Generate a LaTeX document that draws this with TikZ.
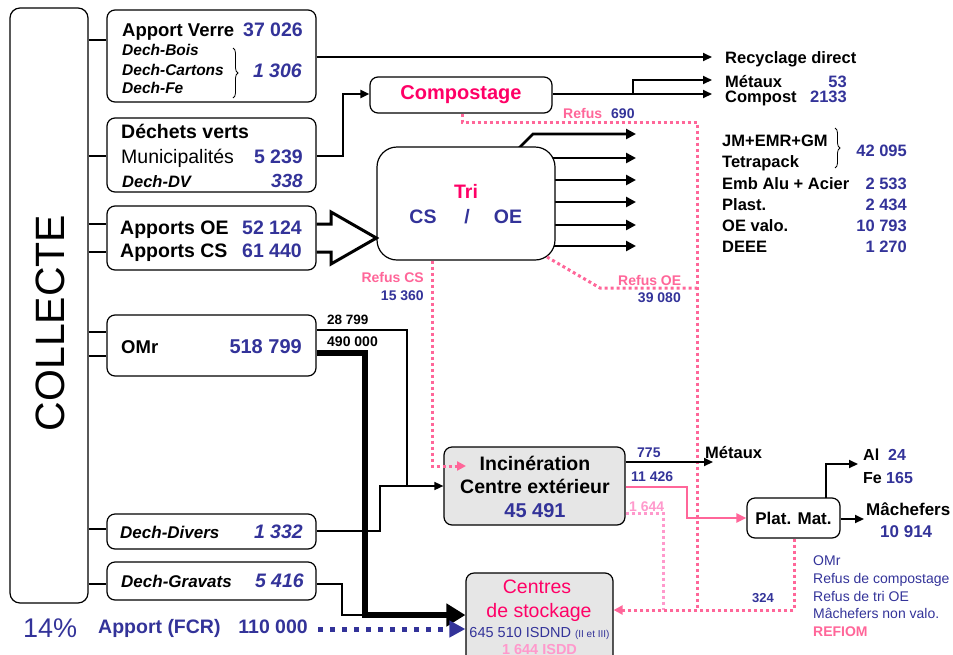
\documentclass[tikz,border=0pt]{standalone}
\usepackage{fontspec}
\setmainfont{Liberation Sans}
\usetikzlibrary{arrows.meta,decorations.pathreplacing}
\definecolor{cblue}{HTML}{333399}
\definecolor{cmag}{HTML}{FF0066}
\definecolor{cpink}{HTML}{FF6699}
\definecolor{clpink}{HTML}{FF99CC}
\definecolor{cgray}{HTML}{E6E6E6}
\newcommand\myfs[1]{\fontsize{#1}{#1}\selectfont}
\tikzset{
 box/.style={draw, line width=1.2pt, rounded corners=8pt, inner sep=0, fill=white},
 lt/.style={inner sep=0, anchor=base west},
 rt/.style={inner sep=0, anchor=base east},
 ct/.style={inner sep=0, anchor=base},
 fb/.style={font=\bfseries\myfs{#1}},
 fbi/.style={font=\bfseries\itshape\myfs{#1}},
 fr/.style={font=\myfs{#1}},
 bl/.style={text=cblue},
 conn/.style={line width=1.5pt},
 arr/.style={line width=2pt, -{Triangle[length=9pt,width=8pt]}},
 tarr/.style={line width=2.6pt, -{Triangle[length=10pt,width=10pt]}},
 pdot/.style={draw=cpink, line width=3pt, dash pattern=on 3pt off 3pt},
 lpdot/.style={draw=clpink, line width=3pt, dash pattern=on 3pt off 3pt},
 parr/.style={-{Triangle[length=9pt,width=9pt]}, cpink},
}
\begin{document}
\begin{tikzpicture}[x=1pt,y=-1pt]
\useasboundingbox (0,0) rectangle (953,654);
\clip (0,0) rectangle (953,654);

% ---------- boxes ----------
\node[box, rounded corners=10pt, minimum width=78, minimum height=595] (col) at (49,305.5) {};
\node[rotate=90, fr=41, inner sep=0] (colt) at (50,323) {COLLECTE};

\node[box, minimum width=209, minimum height=92] (b1) at (211.5,56) {};
\node[box, minimum width=209, minimum height=74] (b2) at (211.5,155) {};
\node[box, minimum width=209, minimum height=64] (b3) at (211.5,238) {};
\node[box, minimum width=209, minimum height=61] (b4) at (211.5,345.5) {};
\node[box, minimum width=209, minimum height=35] (b5) at (211.5,531.5) {};
\node[box, minimum width=209, minimum height=38] (b6) at (211.5,581) {};

% connectors from COLLECTE
\draw[conn] (col.east |- 0,40) -- (b1.west |- 0,40);
\draw[conn] (col.east |- 0,156) -- (b2.west |- 0,156);
\draw[conn] (col.east |- 0,224) -- (b3.west |- 0,224);
\draw[conn] (col.east |- 0,252) -- (b3.west |- 0,252);
\draw[conn] (col.east |- 0,332) -- (b4.west |- 0,332);
\draw[conn] (col.east |- 0,356) -- (b4.west |- 0,356);
\draw[conn] (col.east |- 0,529) -- (b5.west |- 0,529);
\draw[conn] (col.east |- 0,584) -- (b6.west |- 0,584);

% box texts
\node[lt, fb=18.5] (t1a) at (122,36) {Apport Verre};
\node[rt, fb=19.5, bl] (t1b) at (303,36) {37 026};
\node[lt, fbi=15.5] (t1c) at (122,55) {Dech-Bois};
\node[lt, fbi=15.5] (t1d) at (122,75) {Dech-Cartons};
\node[lt, fbi=15.5] (t1e) at (122,93) {Dech-Fe};
\draw[decorate, decoration={brace, amplitude=5pt}, line width=0.8pt] (233,48) -- (233,98);
\node[rt, fbi=19.5, bl] (t1f) at (302,77) {1 306};

\node[lt, fb=19.5] (t2a) at (121,138) {Déchets verts};
\node[lt, fr=19.5] (t2b) at (121,163) {Municipalités};
\node[rt, fb=19.5, bl] (t2c) at (303,163) {5 239};
\node[lt, fbi=16.5] (t2d) at (122,187) {Dech-DV};
\node[rt, fbi=19, bl] (t2e) at (303,187) {338};

\node[lt, fb=19.5] (t3a) at (120,234) {Apports OE};
\node[rt, fb=19.5, bl] (t3b) at (302,234) {52 124};
\node[lt, fb=19.5] (t3c) at (120,257) {Apports CS};
\node[rt, fb=19.5, bl] (t3d) at (302,257) {61 440};

\node[lt, fb=18.5] (t4a) at (121,353) {OMr};
\node[rt, fb=20, bl] (t4b) at (302,353) {518 799};
\node[lt, fb=13.5] (t4c) at (327,324) {28 799};
\node[lt, fb=14] (t4d) at (327,346) {490 000};

\node[lt, fbi=17] (t5a) at (120,538) {Dech-Divers};
\node[rt, fbi=19.5, bl] (t5b) at (303,538) {1 332};
\node[lt, fbi=17] (t6a) at (121,587) {Dech-Gravats};
\node[rt, fbi=19.5, bl] (t6b) at (304,587) {5 416};

\node[lt, fr=27, bl] (pct) at (23,637) {14\%};
\node[lt, fb=19.5, bl] (fcr) at (98,633) {Apport (FCR)};
\node[rt, fb=19.5, bl] (fcrn) at (308,633) {110 000};

% ---------- process boxes ----------
\node[box, minimum width=182, minimum height=36] (comp) at (461,95) {};
\node[fb=20, text=cmag, inner sep=0] (compt) at (461,95) {Compostage};

% Tri arrows (behind box)
\draw[tarr] (518,149) -- (533,134) -- (636,134);
\draw[tarr] (553,158) -- (636,158);
\draw[tarr] (553,180) -- (636,180);
\draw[tarr] (553,202) -- (636,202);
\draw[tarr] (553,225) -- (636,225);
\draw[tarr] (553,246) -- (636,246);

\node[box, rounded corners=20pt, minimum width=178, minimum height=113] (tri) at (466,203.5) {};
\node[ct, fb=19.5, text=cmag] (trit) at (466,198) {Tri};
\node[ct, fb=19.5, bl] (tric) at (423,223) {CS};
\node[ct, fb=19.5, bl] (tris) at (467,223) {/};
\node[ct, fb=19.5, bl] (trio) at (508,223) {OE};

\node[box, fill=cgray, minimum width=181, minimum height=78] (inc) at (534.5,486) {};
\node[ct, fb=19.5] (inca) at (535,470) {Incinération};
\node[ct, fb=19.5] (incb) at (535,493) {Centre extérieur};
\node[ct, fb=20, bl] (incc) at (535,517) {45 491};

\node[box, minimum width=93, minimum height=40] (plat) at (793.5,518) {};
\node[fb=17, inner sep=0] (platt) at (793.5,518) {Plat. Mat.};

\node[box, fill=cgray, minimum width=147, minimum height=92] (sto) at (539.5,619) {};
\node[ct, fr=19.5, text=cmag] (stoa) at (537,593) {Centres};
\node[ct, fr=19.5, text=cmag] (stob) at (539,617) {de stockage};
\node[ct, fr=14.5, bl] (stoc) at (539.5,637) {645 510 ISDND {\myfs{10}(II et III)}};
\node[ct, fb=14.5, text=clpink] (stod) at (539.5,654) {1 644 ISDD};

% ---------- connectors ----------
% recyclage direct
\coordinate (rec) at (712,57);
\draw[arr] (b1.east |- 0,57) -- (rec);
\node[lt, fb=16.5] (rect) at (725,63) {Recyclage direct};

% dechets verts -> compostage
\draw[arr] (b2.east |- 0,156) -- (343,156) -- (343,94) -- (comp.west |- 0,94);

% compostage outputs
\coordinate (cmet) at (712,80);
\coordinate (ccom) at (712,94);
\draw[arr] (comp.east |- 0,94) -- (ccom);
\draw[arr] (633,94) -- (633,80) -- (cmet);
\node[lt, fb=16.5] (cmt) at (725,87) {Métaux};
\node[rt, fb=16.5, bl] (cmn) at (847,87) {53};
\node[lt, fb=16.5] (cct) at (725,102) {Compost};
\node[rt, fb=16.5, bl] (ccn) at (847,102) {2133};
\node[lt, fb=14, text=cpink] (rf) at (563,118) {Refus};
\node[lt, fb=14, bl] (rfn) at (611,118) {690};

% apports -> tri (hollow arrow)
\draw[line width=3pt, line join=miter] (b3.east |- 0,224) -- (331,224) -- (331,212) -- (tri.west |- 0,238) -- (331,264) -- (331,252) -- (b3.east |- 0,252);

% tri output labels
\node[lt, fb=16.5] (l1) at (722,146) {JM+EMR+GM};
\node[lt, fb=16.5] (l2) at (722,167) {Tetrapack};
\node[lt, fb=16.5] (l3) at (722,189) {Emb Alu + Acier};
\node[lt, fb=16.5] (l4) at (722,210) {Plast.};
\node[lt, fb=16.5] (l5) at (722,231) {OE valo.};
\node[lt, fb=16.5] (l6) at (722,252) {DEEE};
\draw[decorate, decoration={brace, amplitude=5pt}, line width=0.8pt] (835,128) -- (835,168);
\node[rt, fb=16.5, bl] (n1) at (907,156) {42 095};
\node[rt, fb=16.5, bl] (n3) at (907,189) {2 533};
\node[rt, fb=16.5, bl] (n4) at (907,210) {2 434};
\node[rt, fb=16.5, bl] (n5) at (907,231) {10 793};
\node[rt, fb=16.5, bl] (n6) at (907,252) {1 270};

% refus OE
\draw[pdot] (547,257) -- (600,288) -- (697,288);
\node[lt, fb=14, text=cpink] (roe) at (618,285) {Refus OE};
\node[rt, fb=14, bl] (roen) at (681,302) {39 080};

% refus CS
\node[rt, fb=14, text=cpink] (rcs) at (424,282) {Refus CS};
\node[rt, fb=14, bl] (rcsn) at (424,300) {15 360};
\draw[pdot, parr] (tri.south -| 432,0) -- (432,466) -- (466,466);

% compost refus
\draw[pdot] (comp.south -| 462,0) -- (462,122) -- (697,122) -- (697,610);

% OMr -> incineration / stockage
\draw[conn] (b4.east |- 0,330) -- (407,330) -- (407,486);
\draw[conn] (b5.east |- 0,531) -- (380,531) -- (380,486) -- (407,486);
\draw[conn, -{Triangle[length=9pt,width=8pt]}] (407,486) -- (inc.west |- 0,486);
\draw[conn] (b6.east |- 0,584) -- (342,584) -- (342,615) -- (365,615);
\draw[line width=6pt, line join=miter, -{Triangle[length=19pt,width=22pt]}] (b4.east |- 0,353) -- (365,353) -- (365,615) -- (sto.west |- 0,615);
\draw[draw=cblue, line width=5pt, dash pattern=on 5pt off 7pt, -{Triangle[length=16pt,width=16pt]}, cblue] (fcrn.east |- 0,629) ++(10,0) -- (sto.west |- 0,629);

% incineration outputs
\node[lt, fb=14, bl] (i775) at (637,457) {775};
\draw[arr] (inc.east |- 0,462) -- (713,462);
\node[lt, fb=16.5] (imet) at (705,458) {Métaux};
\node[lt, fb=14, bl] (i114) at (631,481) {11 426};
\draw[line width=2.5pt, cpink, -{Triangle[length=10pt,width=9pt]}] (inc.east |- 0,487) -- (687,487) -- (687,518) -- (plat.west |- 0,518);
\node[lt, fb=14, text=clpink] (i1644) at (629,511) {1 644};
\draw[lpdot] (inc.east |- 0,513) -- (663,513) -- (663,610);

% plat mat outputs
\draw[arr] (826,498) -- (826,464) -- (858,464);
\node[lt, fb=16] (al) at (863,460) {Al};
\node[lt, fb=16, bl] (aln) at (888,460) {24};
\node[lt, fb=16] (fe) at (863,483) {Fe};
\node[lt, fb=16, bl] (fen) at (886,483) {165};
\draw[arr] (plat.east |- 0,519) -- (864,519);
\node[lt, fb=17] (mach) at (866,515) {Mâchefers};
\node[lt, fb=17, bl] (machn) at (880,537) {10 914};

% refus to stockage
\draw[pdot, parr] (plat.south -| 794,0) -- (794,610) -- (sto.east |- 0,610);
\node[lt, fb=13, bl] (n324) at (752,602) {324};

% legend
\node[lt, fr=14, bl] (g1) at (813,565) {OMr};
\node[lt, fr=14, bl] (g2) at (813,583) {Refus de compostage};
\node[lt, fr=14, bl] (g3) at (813,601) {Refus de tri OE};
\node[lt, fr=14, bl] (g4) at (813,618) {Mâchefers non valo.};
\node[lt, fb=14, text=cpink] (g5) at (813,636) {REFIOM};
\end{tikzpicture}
\end{document}
